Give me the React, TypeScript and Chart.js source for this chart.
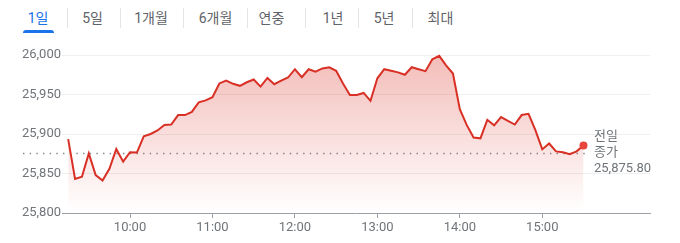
import React, { useEffect, useRef } from "react";
import { Chart, registerables } from "chart.js";

Chart.register(...registerables);

// ---- data ----
const times = [
  "09:15", "09:20", "09:25", "09:30", "09:35", "09:40", "09:45", "09:50", "09:55",
  "10:00", "10:05", "10:10", "10:15", "10:20", "10:25", "10:30", "10:35", "10:40", "10:45", "10:50", "10:55",
  "11:00", "11:05", "11:10", "11:15", "11:20", "11:25", "11:30", "11:35", "11:40", "11:45", "11:50", "11:55",
  "12:00", "12:05", "12:10", "12:15", "12:20", "12:25", "12:30", "12:35", "12:40", "12:45", "12:50", "12:55",
  "13:00", "13:05", "13:10", "13:15", "13:20", "13:25", "13:30", "13:35", "13:40", "13:45", "13:50", "13:55",
  "14:00", "14:05", "14:10", "14:15", "14:20", "14:25", "14:30", "14:35", "14:40", "14:45", "14:50", "14:55",
  "15:00", "15:05", "15:10", "15:15", "15:20", "15:25", "15:30",
];

const prices = [
  25893.5, 25843, 25846, 25875.5, 25848, 25841, 25856, 25881, 25865,
  25877, 25876.5, 25897, 25900, 25904.5, 25911.5, 25912, 25924, 25924, 25928, 25940, 25942.5,
  25946.5, 25964, 25967.5, 25963.5, 25961, 25965.5, 25969, 25960, 25971, 25963, 25967.5, 25971.5,
  25982, 25972, 25982, 25979, 25983, 25984.5, 25980, 25964, 25949.5, 25949.5, 25952, 25942,
  25970.5, 25982, 25980, 25978, 25975, 25984.5, 25982, 25979.5, 25994.5, 25999, 25987, 25976.5,
  25931.5, 25911.5, 25895.5, 25894.5, 25918, 25911, 25921.5, 25916.5, 25912, 25924, 25925.5, 25905,
  25880.5, 25888, 25878, 25877, 25874.5, 25878, 25885.5,
];

const prevClose = 25875.8;
const prevCloseText = ["전일", "종가", "25,875.80"];
const xTickLabels = ["10:00", "11:00", "12:00", "13:00", "14:00", "15:00"];
const yTickValues = [25800, 25850, 25900, 25950, 26000];
const tabs = ["1일", "5일", "1개월", "6개월", "연중", "1년", "5년", "최대"];

// ---- layout / style ----
const X_MIN = 550.5;
const X_MAX = 978.4;
const Y_MIN = 25800;
const Y_MAX = 26000;
const tabCenters = [38, 92.5, 151, 215.5, 271.5, 333, 384, 440.5];
const tabSeps = [67, 120, 183, 247, 305, 358, 412];
const FONT = "Roboto, 'Noto Sans CJK KR', Arial, sans-serif";
const GRAY = "#70757a";
const RED = "#d93025";

const toMin = (s: string) => {
  const [h, m] = s.split(":").map(Number);
  return h * 60 + m;
};
const fmtMin = (v: number) => {
  const h = Math.floor(v / 60);
  const m = Math.round(v - h * 60);
  return `${h}:${String(m).padStart(2, "0")}`;
};

const prevClosePlugin = {
  id: "prevClose",
  beforeDatasetsDraw(chart: any) {
    const { ctx, chartArea, scales } = chart;
    const py = Math.round(scales.y.getPixelForValue(prevClose)) + 0.5;
    const lastX = scales.x.getPixelForValue(toMin(times[times.length - 1]));
    ctx.save();
    ctx.strokeStyle = "#80868b";
    ctx.lineWidth = 1.3;
    ctx.setLineDash([1.4, 5.27]);
    ctx.beginPath();
    ctx.moveTo(chartArea.left - 39, py);
    ctx.lineTo(lastX + 4, py);
    ctx.stroke();
    ctx.restore();
  },
  afterDraw(chart: any) {
    const { ctx, scales } = chart;
    const py = scales.y.getPixelForValue(prevClose);
    const lastX = scales.x.getPixelForValue(toMin(times[times.length - 1]));
    ctx.save();
    ctx.font = `13px ${FONT}`;
    ctx.fillStyle = GRAY;
    ctx.textAlign = "left";
    ctx.textBaseline = "middle";
    const offs = [-16, 0, 15.5];
    prevCloseText.forEach((t, i) => ctx.fillText(t, lastX + 10.5, py + offs[i]));
    ctx.restore();
  },
};

export default function App() {
  const ref = useRef<HTMLCanvasElement | null>(null);

  useEffect(() => {
    if (!ref.current) return;
    const last = prices.length - 1;
    const chart = new Chart(ref.current, {
      type: "line",
      data: {
        datasets: [
          {
            data: times.map((t, i) => ({ x: toMin(t), y: prices[i] })),
            borderColor: RED,
            borderWidth: 2,
            tension: 0,
            fill: "start",
            backgroundColor: (c: any) => {
              const area = c.chart.chartArea;
              if (!area) return "transparent";
              const g = c.chart.ctx.createLinearGradient(0, area.top, 0, area.bottom);
              g.addColorStop(0, "rgba(217,48,37,0.32)");
              g.addColorStop(1, "rgba(217,48,37,0)");
              return g;
            },
            pointRadius: (c: any) => (c.dataIndex === last ? 4 : 0),
            pointBackgroundColor: "#e8453c",
            pointBorderWidth: 0,
            pointHoverRadius: 0,
            clip: false as any,
          },
        ],
      },
      options: {
        animation: false,
        responsive: false,
        events: [],
        layout: { padding: { top: 15, right: 30, left: 0, bottom: 0 } },
        plugins: { legend: { display: false }, tooltip: { enabled: false } },
        scales: {
          x: {
            type: "linear",
            min: X_MIN,
            max: X_MAX,
            afterFit: (s: any) => {
              s.height = 30;
            },
            afterBuildTicks: (s: any) => {
              s.ticks = xTickLabels.map((l) => ({ value: toMin(l) }));
            },
            ticks: {
              autoSkip: false,
              maxRotation: 0,
              padding: 2,
              color: GRAY,
              font: { size: 13, family: FONT },
              callback: (v: any) => fmtMin(Number(v)),
            },
            grid: {
              display: true,
              drawOnChartArea: false,
              drawTicks: true,
              tickLength: 5,
              color: "#9aa0a6",
            },
            border: { display: true, color: "#9aa0a6", width: 1 },
          },
          y: {
            type: "linear",
            min: Y_MIN,
            max: Y_MAX,
            afterFit: (s: any) => {
              s.width = 62;
            },
            afterBuildTicks: (s: any) => {
              s.ticks = yTickValues.map((v) => ({ value: v }));
            },
            ticks: {
              padding: 1,
              color: GRAY,
              font: { size: 13, family: FONT },
              callback: (v: any) => Number(v).toLocaleString("en-US"),
            },
            grid: {
              drawTicks: false,
              color: (c: any) => (c.tick && c.tick.value === Y_MIN ? "transparent" : "#efefef"),
            },
            border: { display: false },
          },
        },
      },
      plugins: [prevClosePlugin],
    });
    return () => chart.destroy();
  }, []);

  return (
    <div style={{ position: "relative", width: 680, height: 243, overflow: "hidden", fontFamily: FONT }}>
      <style>{"html,body{margin:0;padding:0;overflow:hidden;}"}</style>
      {tabs.map((t, i) => (
        <div
          key={t}
          style={{
            position: "absolute",
            top: 8,
            left: tabCenters[i] - 40,
            width: 80,
            height: 20,
            lineHeight: "20px",
            fontSize: 14,
            textAlign: "center",
            color: i === 0 ? "#1a73e8" : "#5f6368",
            whiteSpace: "nowrap",
          }}
        >
          {t}
        </div>
      ))}
      {tabSeps.map((x) => (
        <div
          key={x}
          style={{ position: "absolute", top: 8, left: x, width: 1, height: 20, background: "#e3e5e8" }}
        />
      ))}
      <div
        style={{
          position: "absolute",
          top: 30,
          left: 23,
          width: 31,
          height: 3,
          background: "#1a73e8",
          borderRadius: "3px 3px 0 0",
        }}
      />
      <canvas
        ref={ref}
        width={680}
        height={203}
        style={{ position: "absolute", left: 0, top: 40, width: 680, height: 203, display: "block" }}
      />
    </div>
  );
}
